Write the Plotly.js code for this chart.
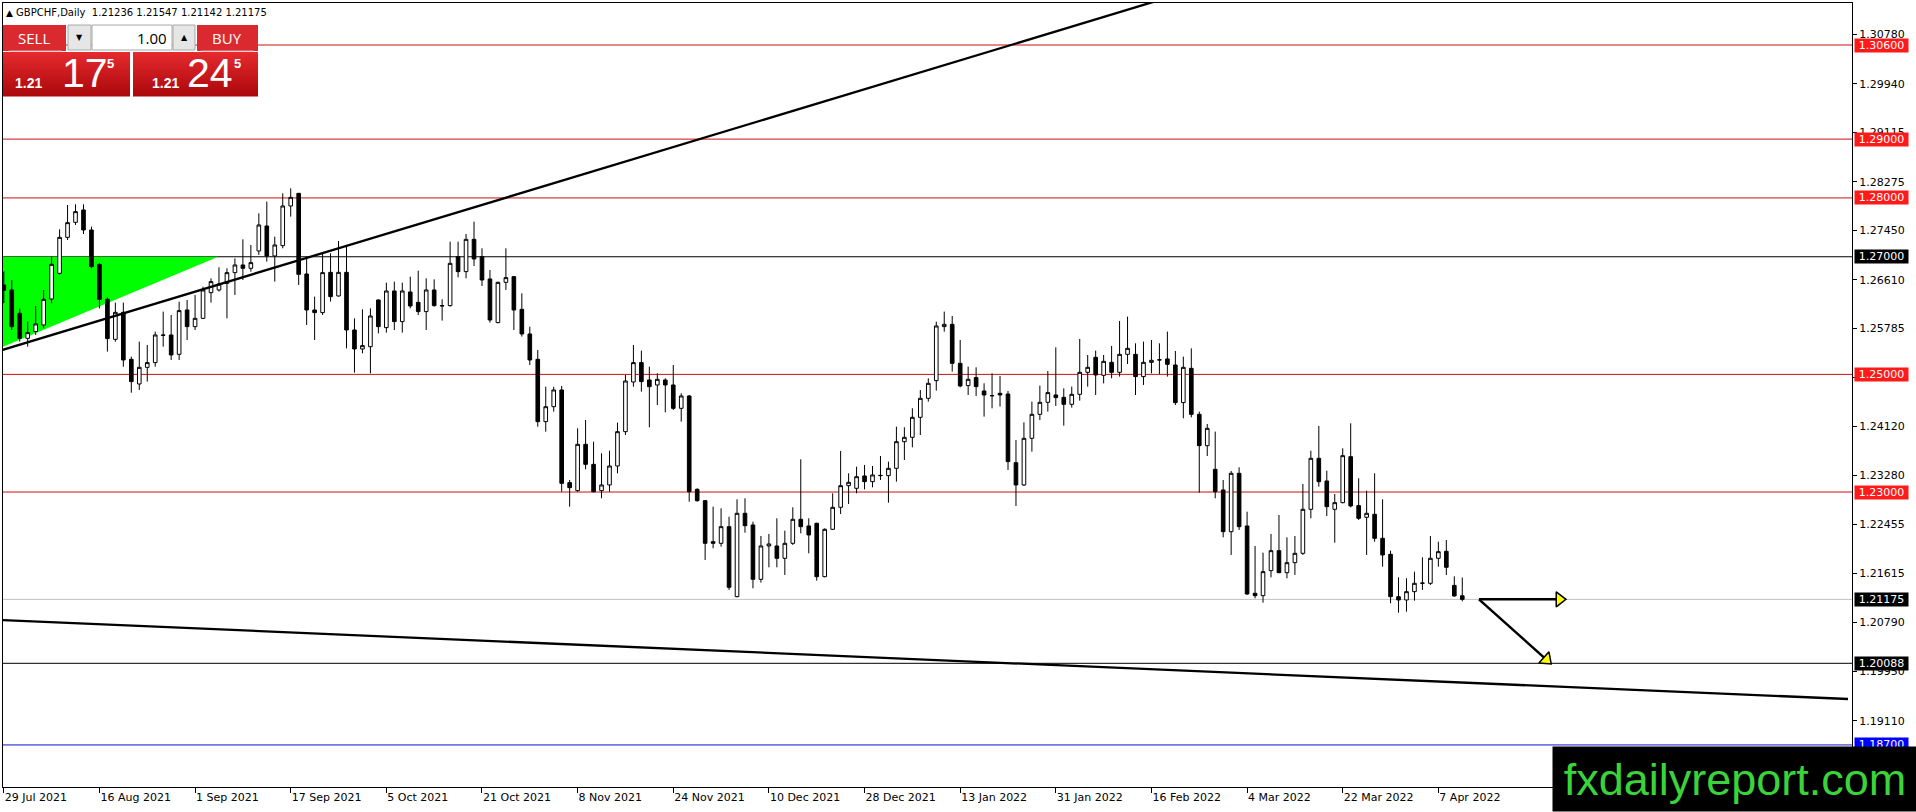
<!DOCTYPE html>
<html><head><meta charset="utf-8">
<script src="https://cdn.plot.ly/plotly-3.0.1.min.js"></script>
<style>html,body{margin:0;padding:0;background:#fff;overflow:hidden}#chart{width:1916px;height:812px}</style>
</head><body><div id="chart"></div>
<script>
// ---------------- data ----------------
const symbol = 'GBPCHF';
const timeframe = 'Daily';

const open = [1.2652,1.26435,1.26038,1.25613,1.25727,1.2584,1.26282,1.26718,1.2733,1.27585,1.27795,1.27455,1.26871,1.26276,1.25596,1.26055,1.25256,1.24837,1.2512,1.252,1.2567,1.2567,1.25341,1.26095,1.25812,1.25953,1.2639,1.26435,1.26548,1.2673,1.2686,1.26803,1.27098,1.27523,1.27013,1.27189,1.27863,1.28078,1.26707,1.26095,1.2605,1.26735,1.26333,1.26735,1.25755,1.25432,1.25471,1.26265,1.25795,1.26418,1.25897,1.26401,1.26225,1.26067,1.26435,1.26169,1.26169,1.27002,1.26747,1.27296,1.27002,1.26622,1.2588,1.26565,1.26662,1.26106,1.25687,1.25256,1.24196,1.24451,1.24735,1.23159,1.23023,1.23811,1.23471,1.23023,1.2312,1.23443,1.24026,1.24871,1.252,1.24905,1.2482,1.24905,1.2482,1.24423,1.24633,1.23046,1.22853,1.22156,1.22128,1.22411,1.21221,1.22638,1.2244,1.21516,1.22083,1.22083,1.21873,1.22128,1.22536,1.22423,1.22468,1.21561,1.22366,1.2274,1.23108,1.23063,1.23273,1.23176,1.23278,1.23278,1.23403,1.23856,1.2393,1.2427,1.24593,1.24894,1.25812,1.25851,1.25188,1.24809,1.24945,1.24718,1.2464,1.24678,1.24667,1.23499,1.2312,1.23913,1.24321,1.24525,1.2465,1.2461,1.24491,1.24661,1.25035,1.2529,1.24984,1.25205,1.25035,1.25341,1.25341,1.24962,1.25205,1.25245,1.25262,1.2516,1.2452,1.25103,1.24321,1.23788,1.23386,1.23035,1.22326,1.23318,1.22423,1.21278,1.21238,1.21663,1.22003,1.21629,1.21799,1.21958,1.22706,1.23573,1.23188,1.22706,1.22819,1.23601,1.22769,1.2257,1.22621,1.22213,1.21941,1.21221,1.21165,1.21306,1.21448,1.21448,1.21873,1.21992,1.21412,1.21236];
const high = [1.2675,1.26605,1.26123,1.25897,1.26163,1.26435,1.27002,1.27466,1.2788,1.27891,1.27891,1.27512,1.26888,1.2631,1.2622,1.2622,1.25302,1.25557,1.255,1.25727,1.26067,1.2601,1.26237,1.26265,1.2635,1.26492,1.26633,1.2682,1.26803,1.26973,1.27296,1.272,1.27738,1.27937,1.27342,1.28078,1.28163,1.28085,1.27002,1.26322,1.27047,1.27058,1.27268,1.27172,1.25953,1.26106,1.26123,1.26276,1.2656,1.26577,1.2656,1.26662,1.26764,1.26633,1.26616,1.26276,1.27257,1.27257,1.27387,1.27597,1.27143,1.26775,1.26577,1.27143,1.26673,1.26378,1.25812,1.25415,1.24791,1.24791,1.24803,1.23205,1.24083,1.24225,1.23856,1.23658,1.23703,1.24179,1.2499,1.255,1.25404,1.25131,1.25018,1.24933,1.2516,1.24678,1.2465,1.23063,1.22865,1.22751,1.22723,1.22581,1.22876,1.22893,1.22496,1.22253,1.22287,1.22553,1.22343,1.2274,1.23556,1.22553,1.22479,1.22383,1.22978,1.23698,1.23318,1.23431,1.2346,1.23443,1.23613,1.23517,1.24111,1.241,1.24423,1.24735,1.24933,1.25897,1.26067,1.25993,1.25585,1.25132,1.2512,1.24848,1.25018,1.24973,1.24718,1.23885,1.24185,1.24537,1.24809,1.25058,1.2546,1.24763,1.24792,1.25602,1.2533,1.25404,1.2533,1.25483,1.25908,1.25982,1.25528,1.25557,1.25585,1.25528,1.25727,1.25398,1.25302,1.25443,1.24367,1.24157,1.24027,1.23205,1.23358,1.2342,1.22666,1.22083,1.21969,1.22287,1.2261,1.2223,1.22253,1.23137,1.23703,1.24123,1.23363,1.22967,1.23743,1.24168,1.23233,1.23023,1.23318,1.22876,1.22003,1.2155,1.21533,1.21646,1.2189,1.22253,1.22156,1.22185,1.21567,1.21547];
const low = [1.2621,1.25755,1.25557,1.25471,1.2567,1.25783,1.26208,1.267,1.27285,1.2754,1.27387,1.26803,1.26123,1.25387,1.25557,1.25131,1.24689,1.24735,1.24877,1.25131,1.25471,1.25245,1.25245,1.25585,1.25755,1.2594,1.2622,1.26407,1.25953,1.2635,1.26605,1.26747,1.2703,1.26917,1.26577,1.27143,1.27682,1.2652,1.2584,1.25585,1.2601,1.26237,1.26322,1.25443,1.2503,1.25358,1.25018,1.25698,1.2571,1.25755,1.2571,1.26123,1.2601,1.25755,1.26152,1.25914,1.26152,1.2665,1.26633,1.26843,1.26503,1.2588,1.25868,1.26435,1.25755,1.25642,1.2516,1.24111,1.24026,1.24366,1.23006,1.22751,1.23006,1.23386,1.22995,1.22893,1.23006,1.23318,1.2397,1.24791,1.24706,1.241,1.2448,1.24355,1.24395,1.24196,1.22836,1.22836,1.21845,1.22043,1.22071,1.21335,1.2121,1.22309,1.21363,1.21459,1.2172,1.2172,1.2159,1.221,1.22298,1.21958,1.21493,1.2155,1.22355,1.22627,1.22797,1.22978,1.23046,1.2308,1.23205,1.22819,1.23176,1.23545,1.2376,1.2397,1.24537,1.24724,1.25727,1.25047,1.2478,1.2465,1.24633,1.24282,1.24423,1.24452,1.23375,1.22763,1.23103,1.23686,1.24225,1.24367,1.24463,1.24129,1.24435,1.24554,1.24792,1.2465,1.24848,1.24933,1.24962,1.25177,1.2465,1.2482,1.25018,1.25007,1.24962,1.2448,1.24253,1.2427,1.22989,1.23613,1.22893,1.2223,1.2193,1.22355,1.2125,1.21193,1.21119,1.2155,1.2162,1.21533,1.2159,1.2193,1.22553,1.23091,1.22593,1.22139,1.22808,1.2274,1.22525,1.2193,1.22156,1.21731,1.21108,1.20949,1.20966,1.21153,1.21335,1.2142,1.21731,1.2159,1.21221,1.21142];
const close = [1.2643,1.25812,1.25613,1.2571,1.25857,1.26276,1.26871,1.2733,1.2758,1.27767,1.27455,1.26832,1.26276,1.25608,1.26055,1.25245,1.24877,1.2512,1.252,1.2567,1.25665,1.2533,1.26084,1.25812,1.25953,1.26435,1.26577,1.26537,1.2673,1.2686,1.26803,1.269,1.2754,1.27013,1.272,1.27863,1.2801,1.26701,1.26095,1.2605,1.2673,1.26322,1.26735,1.25755,1.25432,1.25489,1.25993,1.25812,1.26418,1.25897,1.26418,1.26163,1.26067,1.26435,1.26169,1.26165,1.26888,1.26747,1.27296,1.26962,1.26605,1.25925,1.26565,1.26645,1.26095,1.25687,1.25245,1.24196,1.24451,1.24735,1.23148,1.23074,1.23811,1.23471,1.23006,1.2312,1.23443,1.24026,1.24888,1.252,1.24877,1.24791,1.24916,1.2482,1.24423,1.24633,1.23006,1.22853,1.22128,1.22128,1.22411,1.2138,1.22638,1.22428,1.21516,1.22083,1.22117,1.21873,1.22128,1.22536,1.22411,1.2227,1.21561,1.22366,1.2274,1.23108,1.23165,1.23261,1.23176,1.2329,1.23282,1.23403,1.23856,1.2393,1.2427,1.24593,1.24848,1.25823,1.25851,1.25188,1.24803,1.24916,1.24792,1.2465,1.24637,1.2465,1.23517,1.2312,1.23913,1.24321,1.24525,1.2469,1.24605,1.24491,1.24661,1.25035,1.2512,1.2499,1.25222,1.25035,1.25341,1.25443,1.24962,1.25205,1.25239,1.25248,1.25171,1.2452,1.2512,1.24321,1.23788,1.24083,1.23006,1.22326,1.23318,1.22411,1.21267,1.21238,1.21646,1.22003,1.21629,1.21799,1.21958,1.22706,1.23573,1.23176,1.22751,1.22819,1.23618,1.22763,1.22553,1.22638,1.22213,1.2193,1.21221,1.21165,1.21306,1.21448,1.21452,1.21873,1.21986,1.2172,1.21233,1.21175];

const tickBars = [0,12,24,36,48,60,72,84,96,108,120,132,144,156,168,180];
const tickLabels = ['29 Jul 2021','16 Aug 2021','1 Sep 2021','17 Sep 2021','5 Oct 2021','21 Oct 2021','8 Nov 2021','24 Nov 2021','10 Dec 2021','28 Dec 2021','13 Jan 2022','31 Jan 2022','16 Feb 2022','4 Mar 2022','22 Mar 2022','7 Apr 2022'];
const priceTicks = [1.30780,1.29940,1.29115,1.28275,1.27450,1.26610,1.25785,1.24950,1.24120,1.23280,1.22455,1.21615,1.20790,1.19950,1.19110];

const levelPrices = [1.30600,1.29000,1.28000,1.27000,1.25000,1.23000,1.21175,1.20088,1.18700];
const levelRoles  = ['level','level','level','pivot','level','level','bid','target','support'];

const upperTrendBars = [-0.5, 144.2];
const upperTrendPrices = [1.25403, 1.31331];
const lowerTrendBars = [-0.5, 231.4];
const lowerTrendPrices = [1.20824, 1.19481];
const triangleBars = [-0.5, 26.9, -0.5];
const trianglePrices = [1.27000, 1.27000, 1.25449];

const arrowStartBar = 185.1;
const arrowStartPrice = 1.21175;
const arrowTipBars = [196.2, 194.3];
const arrowTipPrices = [1.21175, 1.20060];

const bidPrice = 1.21175;
const askPrice = 1.21245;
const lotSize = '1.00';
const watermark = 'fxdailyreport.com';

// ---------------- layout geometry ----------------
const W = 1916, H = 812;
const M = {l: 3, r: 64, t: 3, b: 25};
const PW = W - M.l - M.r, PH = H - M.t - M.b;
const xRange = [-0.1, 231.9];
const yRange = [1.17985, 1.31314];
const px = x => (x - M.l) / PW;
const py = y => 1 - (y - M.t) / PH;
const pxPerBar = PW / (xRange[1] - xRange[0]);
const pxPerPrice = PH / (yRange[1] - yRange[0]);

const roleStyle = {
  level:   {line: '#cc1111', box: '#ff1a1a', text: '#ffffff', w: 1},
  pivot:   {line: '#000000', box: '#000000', text: '#ffffff', w: 1},
  bid:     {line: '#c0c0c0', box: '#000000', text: '#ffffff', w: 1},
  target:  {line: '#000000', box: '#000000', text: '#ffffff', w: 1},
  support: {line: '#1010d0', box: '#0000ff', text: '#ffffff', w: 1}
};

const idx = open.map((_, i) => i);
const shapes = [];
const annotations = [];

// green triangle
shapes.push({type: 'path', xref: 'x', yref: 'y', layer: 'below',
  path: 'M' + triangleBars.map((b, k) => b + ',' + trianglePrices[k]).join(' L') + ' Z',
  fillcolor: '#00ff00', line: {width: 0}});

// horizontal levels
levelPrices.forEach((p, k) => {
  const st = roleStyle[levelRoles[k]];
  shapes.push({type: 'line', xref: 'paper', yref: 'y', x0: 0, x1: 1, y0: p, y1: p,
    layer: 'below', line: {color: st.line, width: st.w}});
});

// trend lines (extended)
const upSlope = (upperTrendPrices[1] - upperTrendPrices[0]) / (upperTrendBars[1] - upperTrendBars[0]);
const upEnd = 175;
shapes.push({type: 'line', xref: 'x', yref: 'y', layer: 'above',
  x0: upperTrendBars[0], y0: upperTrendPrices[0],
  x1: upEnd, y1: upperTrendPrices[0] + upSlope * (upEnd - upperTrendBars[0]),
  line: {color: '#000', width: 2.3}});
shapes.push({type: 'line', xref: 'x', yref: 'y', layer: 'above',
  x0: lowerTrendBars[0], y0: lowerTrendPrices[0], x1: lowerTrendBars[1], y1: lowerTrendPrices[1],
  line: {color: '#000', width: 2.3}});

// arrows
const arrowLineX = [], arrowLineY = [], headX = [], headY = [], headAng = [];
arrowTipBars.forEach((tb, k) => {
  const tp = arrowTipPrices[k];
  const dx = (tb - arrowStartBar) * pxPerBar;
  const dy = -(tp - arrowStartPrice) * pxPerPrice;
  const len = Math.hypot(dx, dy);
  const ux = dx / len, uy = dy / len;
  const back = 8;
  const cx = tb - ux * back / pxPerBar;
  const cy = tp + uy * back / pxPerPrice;
  arrowLineX.push(arrowStartBar, cx, null);
  arrowLineY.push(arrowStartPrice, cy, null);
  headX.push(cx); headY.push(cy);
  headAng.push(Math.atan2(uy, ux) * 180 / Math.PI);
});

// right-side level labels
levelPrices.forEach((p, k) => {
  const st = roleStyle[levelRoles[k]];
  annotations.push({xref: 'paper', yref: 'y', x: 1, y: p, xanchor: 'left', yanchor: 'middle',
    xshift: 2, showarrow: false, text: p.toFixed(5), bgcolor: st.box, width: 53, height: 13,
    borderpad: 0, align: 'center', valign: 'middle',
    font: {family: 'DejaVu Sans', size: 11, color: st.text}});
});

// header
const last = close.length - 1;
annotations.push({xref: 'paper', yref: 'paper', x: px(5), y: py(12), xanchor: 'left', yanchor: 'middle',
  showarrow: false, borderpad: 0,
  text: '<span style="font-size:9px">▲</span> ' + symbol + ',' + timeframe + '  ' +
    [open[last], high[last], low[last], close[last]].map(v => v.toFixed(5)).join(' '),
  font: {family: 'DejaVu Sans', size: 10, color: '#000'}});

// trade panel
function rect(x0, y0, x1, y1, fill, line) {
  shapes.push({type: 'rect', xref: 'paper', yref: 'paper', layer: 'above',
    x0: px(x0), x1: px(x1), y0: py(y1), y1: py(y0), fillcolor: fill,
    line: line ? {color: line, width: 1} : {width: 0}});
}
function label(x, y, text, size, color, xanchor, family, bold) {
  annotations.push({xref: 'paper', yref: 'paper', x: px(x), y: py(y), xanchor: xanchor || 'center',
    yanchor: 'middle', showarrow: false, borderpad: 0,
    text: bold ? '<b>' + text + '</b>' : text,
    font: {family: family || 'Open Sans', size: size, color: color}});
}
const bandTop = [228, 42, 46], bandBot = [172, 8, 12];
function redBox(x0, y0, x1, y1) {
  const n = 22;
  for (let k = 0; k < n; k++) {
    const t = k / (n - 1);
    const c = bandTop.map((v, j) => Math.round(v + (bandBot[j] - v) * t));
    rect(x0, y0 + (y1 - y0) * k / n, x1, y0 + (y1 - y0) * (k + 1) / n + 0.6, 'rgb(' + c.join(',') + ')');
  }
}
rect(3, 25, 66, 51, '#da2a2f');
rect(197, 25, 258, 51, '#da2a2f');
rect(68, 25, 91, 50, '#e6e6e6', '#a8a8a8');
rect(92, 25, 172, 50, '#ffffff', '#a8a8a8');
rect(173, 25, 195, 50, '#e6e6e6', '#a8a8a8');
redBox(3, 52, 130, 96);
redBox(133, 52, 258, 96);
shapes.push({type: 'line', xref: 'paper', yref: 'paper', layer: 'above',
  x0: px(9), x1: px(62), y0: py(51), y1: py(51), line: {color: '#f2a0a0', width: 1}});
shapes.push({type: 'line', xref: 'paper', yref: 'paper', layer: 'above',
  x0: px(201), x1: px(254), y0: py(51), y1: py(51), line: {color: '#f2a0a0', width: 1}});

label(34, 38, 'SELL', 15, '#fff');
label(227, 38, 'BUY', 15, '#fff');
label(79.5, 38, '▼', 8, '#000', 'center', 'DejaVu Sans');
label(184, 38, '▲', 8, '#000', 'center', 'DejaVu Sans');
label(168, 38, lotSize, 15, '#000', 'right');

function priceParts(p) {
  const s = p.toFixed(5);
  return [s.slice(0, 4), s.slice(4, 6), s.slice(6)];
}
const bp = priceParts(bidPrice), ap = priceParts(askPrice);
const bigFont = 'Liberation Sans Narrow, Liberation Sans';
label(14, 83, bp[0], 14, '#fff', 'left', 'Liberation Sans', true);
label(61, 73, bp[1], 41, '#fff', 'left', bigFont);
label(106, 64, bp[2], 13, '#fff', 'left', 'Liberation Sans', true);
label(151, 83, ap[0], 14, '#fff', 'left', 'Liberation Sans', true);
label(186, 73, ap[1], 41, '#fff', 'left', bigFont);
label(233, 64, ap[2], 13, '#fff', 'left', 'Liberation Sans', true);

// watermark
annotations.push({xref: 'paper', yref: 'paper', x: px(1552), y: py(812), xanchor: 'left', yanchor: 'bottom',
  showarrow: false, text: watermark, bgcolor: '#000', width: 364, height: 64, borderpad: 0,
  align: 'center', valign: 'middle', font: {family: 'Liberation Sans', size: 45, color: '#3ad43a'}});

const traces = [
  {type: 'candlestick', x: idx, open: open, high: high, low: low, close: close,
   increasing: {line: {color: '#000', width: 1}, fillcolor: '#ffffff'},
   decreasing: {line: {color: '#000', width: 1}, fillcolor: '#000000'},
   whiskerwidth: 0, hoverinfo: 'skip', showlegend: false},
  {type: 'scatter', mode: 'lines', x: arrowLineX, y: arrowLineY,
   line: {color: '#000', width: 2.5}, hoverinfo: 'skip', showlegend: false, connectgaps: false},
  {type: 'scatter', mode: 'markers', x: headX, y: headY,
   marker: {symbol: 'triangle-right', size: 13, angle: headAng, color: '#ffff00', line: {color: '#000', width: 1.5}},
   hoverinfo: 'skip', showlegend: false, cliponaxis: false}
];

const layout = {
  width: W, height: H,
  margin: {l: M.l, r: M.r, t: M.t, b: M.b, pad: 0},
  paper_bgcolor: '#fff', plot_bgcolor: '#fff',
  showlegend: false, boxgap: 0.35,
  xaxis: {type: 'linear', range: xRange, showgrid: false, zeroline: false,
    showline: true, mirror: true, linecolor: '#000', linewidth: 1,
    ticks: 'outside', ticklen: 5, tickcolor: '#000', tickwidth: 1,
    tickvals: tickBars, ticktext: tickLabels, ticklabelposition: 'outside right',
    tickfont: {family: 'DejaVu Sans', size: 11, color: '#000'},
    rangeslider: {visible: false}, fixedrange: true},
  yaxis: {side: 'right', range: yRange, showgrid: false, zeroline: false,
    showline: true, mirror: true, linecolor: '#000', linewidth: 1,
    ticks: 'outside', ticklen: 4, tickcolor: '#000', tickwidth: 1,
    tickvals: priceTicks, ticktext: priceTicks.map(v => v.toFixed(5)),
    tickfont: {family: 'DejaVu Sans', size: 11, color: '#000'}, fixedrange: true},
  shapes: shapes,
  annotations: annotations
};

Plotly.newPlot('chart', traces, layout, {displayModeBar: false, staticPlot: true});
</script>
</body></html>
